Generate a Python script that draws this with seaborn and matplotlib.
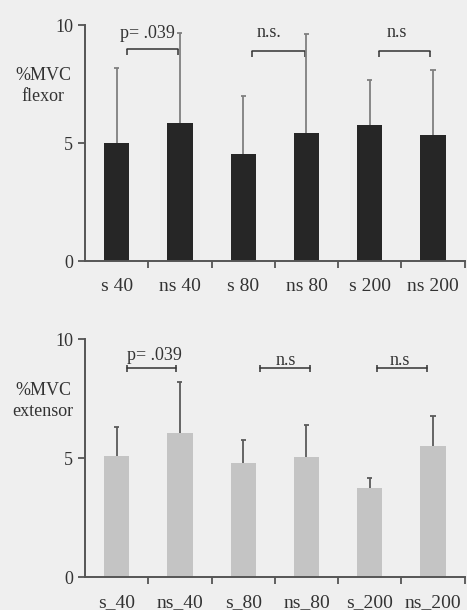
import numpy as np
import pandas as pd
import matplotlib
matplotlib.use("Agg")
import matplotlib.pyplot as plt
import seaborn as sns

# data
flexor_labels = ["s 40", "ns 40", "s 80", "ns 80", "s 200", "ns 200"]
extensor_labels = ["s_40", "ns_40", "s_80", "ns_80", "s_200", "ns_200"]
flexor_mean = [5.0, 5.85, 4.53, 5.42, 5.75, 5.34]
flexor_sd = [3.2, 3.8, 2.47, 4.18, 1.92, 2.76]
extensor_mean = [5.08, 6.05, 4.79, 5.04, 3.74, 5.5]
extensor_sd = [1.22, 2.15, 0.96, 1.36, 0.42, 1.26]

# significance brackets: (start, end, level, text, text_x, text_y)
flexor_brackets = [(0.16, 0.97, 9.0, "p= .039", 0.48, 9.65),
                   (2.14, 2.97, 8.9, "n.s.", 2.41, 9.7),
                   (4.14, 4.95, 8.9, "n.s", 4.43, 9.7)]
extensor_brackets = [(0.16, 0.94, 8.78, "p= .039", 0.59, 9.3),
                     (2.27, 3.06, 8.78, "n.s", 2.68, 9.1),
                     (4.11, 4.90, 8.78, "n.s", 4.48, 9.1)]

sns.set_theme(style="ticks")
plt.rcParams["font.family"] = ["Liberation Serif", "DejaVu Serif"]
ink = "#333333"
bg = "#efefef"


def panel(ax, labels, mean, sd, bar_color, err_color, brackets, ylab, tick_both):
    df = pd.DataFrame({"cond": labels, "mvc": mean})
    sns.barplot(data=df, x="cond", y="mvc", order=labels, color=bar_color,
                saturation=1, width=0.4, ax=ax, errorbar=None, linewidth=0)
    x = np.arange(len(labels))
    tops = np.array(mean) + np.array(sd)
    ax.vlines(x, mean, tops, color=err_color, lw=1.3, zorder=3)
    ax.hlines(tops, x - 0.04, x + 0.04, color=err_color, lw=1.3, zorder=3)

    for x0, x1, lev, txt, tx, ty in brackets:
        ax.plot([x0, x1], [lev, lev], color=ink, lw=1.1, clip_on=False)
        if tick_both:
            ax.vlines([x0, x1], lev - 0.15, lev + 0.15, color=ink, lw=1.1)
        else:
            ax.vlines([x0, x1], lev - 0.25, lev, color=ink, lw=1.1)
        ax.text(tx, ty, txt, ha="center", va="center", fontsize=13, color=ink)

    ax.set_xlim(-0.5, 5.5)
    ax.set_ylim(0, 10)
    ax.set_yticks([0, 5, 10])
    ax.set_xticks(x)
    ax.set_xticks(np.arange(6) + 0.5, minor=True)
    ax.set_xticklabels(labels, fontsize=14, color=ink)
    ax.tick_params(axis="x", which="major", length=0, pad=12)
    ax.tick_params(axis="x", which="minor", length=5, width=1.3, color="#555555")
    ax.tick_params(axis="y", length=5, width=1.3, color="#555555",
                   labelsize=13, labelcolor=ink)
    ax.set_xlabel("")
    ax.set_ylabel("")
    for s in ["left", "bottom"]:
        ax.spines[s].set_linewidth(1.4)
        ax.spines[s].set_color("#555555")
    sns.despine(ax=ax)
    ax.set_facecolor(bg)
    ax.text(-0.11, 0.74, ylab, transform=ax.transAxes, ha="center",
            va="center", fontsize=13, color=ink, linespacing=1.3)


fig = plt.figure(figsize=(4.67, 6.10), dpi=100, facecolor=bg)
ax1 = fig.add_axes([0.182, 0.572, 0.813, 0.387])
ax2 = fig.add_axes([0.182, 0.054, 0.813, 0.390])

panel(ax1, flexor_labels, flexor_mean, flexor_sd, "#262626", "#808080",
      flexor_brackets, "%MVC\nflexor", False)
panel(ax2, extensor_labels, extensor_mean, extensor_sd, "#c4c4c4", "#5a5a5a",
      extensor_brackets, "%MVC\nextensor", True)

fig.savefig("out.png", dpi=100, facecolor=bg)
